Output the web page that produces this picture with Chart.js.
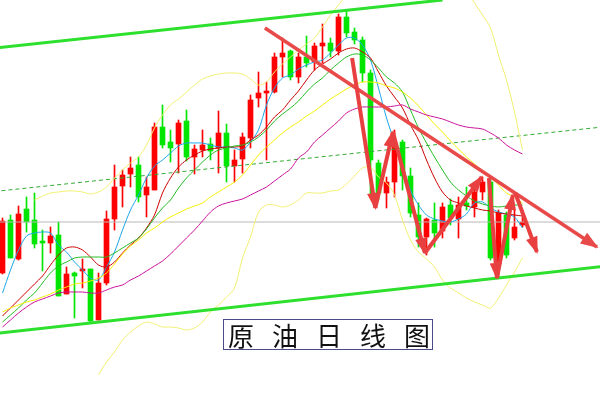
<!DOCTYPE html>
<html><head><meta charset="utf-8">
<script src="https://cdn.jsdelivr.net/npm/chart.js@4/dist/chart.umd.min.js"></script>
<style>
html,body{margin:0;padding:0;background:#fff;}
#wrap{position:relative;width:600px;height:400px;overflow:hidden;}
#title{position:absolute;left:223px;top:319px;width:210px;height:31px;box-sizing:border-box;border:1px solid #4a4a88;background:#fff;font-family:"Noto Sans CJK SC",sans-serif;font-size:26px;line-height:29px;letter-spacing:18px;padding-left:4px;color:#111;white-space:nowrap;}
</style></head><body>
<div id="wrap"><canvas id="c" width="600" height="400"></canvas><div id="title">原油日线图</div></div>
<script>
// Daily candles (price units)
const open  = [52.7,58.0,54.1,59.1,58.0,55.9,55.7,56.5,50.6,52.7,52.9,53.1,48.0,51.7,58.1,61.4,62.6,63.5,60.5,61.0,67.3,65.8,65.6,67.9,64.3,65.0,65.6,65.2,66.7,63.4,64.1,66.2,70.2,70.7,70.8,74.3,74.9,72.3,74.3,73.8,75.4,75.7,74.9,78.3,76.8,76.0,72.7,63.7,60.7,61.8,65.8,62.4,58.5,56.3,58.0,56.9,59.5,58.1,59.7,59.3,60.8,61.8,53.8,58.5,56.2,57.5];
const high  = [58.2,58.5,59.4,60.3,60.7,57.0,57.3,57.8,53.3,52.8,54.1,53.1,52.7,58.9,63.5,63.0,64.3,64.3,62.3,67.7,69.5,67.0,68.0,69.0,65.5,67.0,66.2,68.9,67.6,65.0,66.7,70.5,72.8,71.8,74.7,76.2,75.0,74.7,76.4,75.7,77.6,76.2,78.6,79.0,77.2,76.3,73.0,64.0,62.3,67.0,66.0,63.2,59.7,58.2,59.7,59.7,60.1,60.3,61.3,61.5,62.3,62.2,59.0,58.8,59.0,58.3];
const low   = [52.6,54.2,54.0,56.8,55.2,52.9,54.7,50.4,50.6,48.2,51.2,47.7,48.0,51.5,57.0,59.3,61.3,59.8,58.3,61.0,65.2,63.8,62.7,63.9,62.6,64.3,64.0,62.7,61.8,61.8,62.7,65.2,69.3,64.0,70.7,72.3,72.0,71.7,73.3,73.0,73.7,74.3,74.5,76.3,75.6,71.8,60.5,60.0,59.2,60.3,61.0,58.3,55.3,54.5,55.3,56.2,57.5,56.2,59.0,58.3,60.0,54.0,52.2,54.2,56.0,57.3];
const close = [57.9,54.2,58.6,57.8,55.6,55.7,56.4,50.4,52.6,52.4,53.1,47.9,51.7,58.1,61.3,62.5,63.2,60.3,61.3,67.3,65.5,65.2,67.7,64.3,65.1,65.5,64.9,66.7,63.4,64.0,66.3,70.0,70.7,70.9,74.3,74.7,72.3,74.3,73.7,75.4,75.7,74.9,78.3,76.7,76.0,72.7,64.0,60.7,61.8,65.7,62.4,58.7,56.3,58.1,56.7,59.3,58.2,59.5,59.4,60.8,61.8,54.2,58.7,54.5,57.3,57.8];

// Moving averages
const ma5   = [50.7,53.0,55.0,56.4,56.7,56.8,56.7,55.5,54.8,53.8,53.0,52.2,52.0,53.3,54.8,57.0,59.0,60.5,62.2,63.4,64.0,64.7,65.4,65.7,65.7,65.7,65.5,65.3,65.3,65.2,65.0,65.8,67.0,69.5,71.2,72.2,72.5,73.1,73.5,73.8,74.0,74.7,75.5,76.2,76.2,75.5,74.0,71.2,68.2,65.8,63.5,61.0,59.5,58.5,58.1,57.9,57.8,58.1,58.6,59.7,59.8,59.2,58.8,58.6,58.3,57.2];
const ma10  = [48.4,49.2,50.0,50.8,51.6,52.4,53.5,54.5,55.2,55.3,55.0,54.3,53.5,53.3,53.8,54.7,55.5,56.2,57.2,58.5,60.7,62.2,63.3,64.0,64.5,64.9,65.1,65.2,65.3,65.3,65.4,66.0,66.5,67.3,68.3,69.0,70.0,70.9,72.0,73.0,73.6,74.1,74.7,75.1,75.2,74.8,74.2,72.8,71.4,70.3,69.2,67.5,66.0,64.0,62.2,60.8,60.0,59.7,59.4,59.2,59.0,58.9,58.7,58.6,58.5,58.4];
const ma20  = [47.8,48.5,49.2,50.0,50.7,51.7,52.7,53.4,53.8,54.2,54.3,54.3,54.3,54.3,54.7,55.2,55.7,56.2,57.1,58.2,59.2,60.0,61.2,62.2,63.0,63.8,64.5,65.0,65.2,65.4,65.5,65.8,66.3,67.0,67.9,68.6,69.2,69.9,70.8,71.6,72.2,73.0,73.7,74.3,74.6,74.5,74.0,73.2,72.3,71.7,70.8,69.0,67.2,65.7,64.3,63.0,61.8,61.0,60.4,59.9,59.6,59.4,59.3,59.4,59.5,59.5];
const ma30  = [48.8,49.2,49.5,49.8,50.0,50.3,50.6,51.0,51.3,51.6,51.7,51.9,52.2,52.7,53.6,54.6,55.4,56.0,56.7,57.2,57.8,58.3,58.7,59.1,59.4,59.7,60.3,60.8,61.3,61.8,62.5,63.5,64.5,65.3,66.0,66.7,67.3,67.8,68.4,68.9,69.5,70.1,70.6,71.1,71.5,71.8,71.8,71.7,71.4,71.2,70.8,70.2,69.4,68.5,67.6,66.8,65.9,65.1,64.3,63.6,62.9,62.3,61.5,60.7,60.3,59.7];
const ma60  = [47.3,48.0,48.7,49.3,49.8,50.1,50.4,50.7,50.8,50.8,50.8,50.7,50.7,51.0,51.3,51.5,52.0,52.4,52.9,53.4,53.9,54.6,55.4,56.2,57.0,57.9,58.8,59.4,59.7,59.9,60.1,60.5,60.9,61.3,61.9,62.5,63.1,64.2,64.8,65.8,66.5,67.2,67.9,68.7,69.1,69.3,69.3,69.3,69.3,69.4,69.5,69.1,68.8,68.5,68.3,68.1,67.8,67.5,67.3,67.2,67.1,66.7,66.2,65.5,65.0,64.6];
// Bollinger bands
const bollUpper = [null,null,null,null,60.0,60.4,60.7,60.8,60.9,60.9,60.8,60.6,60.8,61.3,62.2,63.0,63.7,64.3,65.5,67.2,68.5,69.5,70.1,70.8,71.5,72.1,72.4,72.6,72.7,72.7,72.6,72.1,71.5,71.8,72.8,73.6,74.3,75.0,75.6,76.2,77.3,78.5,79.5,80.5,81.5,82.5,83.5,84.2,84.8,85.2,85.5,85.5,85.2,84.8,84.2,83.5,82.8,82.0,81.0,79.7,78.5,77.2,74.5,72.0,68.8,65.0];
const bollLower = [null,null,null,null,null,null,null,null,null,null,null,null,42.5,43.8,44.8,46.0,46.8,47.4,47.8,47.6,47.3,47.3,47.2,47.0,47.2,47.8,48.8,49.5,50.3,51.2,54.2,56.3,58.8,59.5,59.5,59.3,59.5,60.0,60.7,60.7,60.7,60.9,61.0,61.6,62.4,63.2,63.3,62.3,61.7,60.5,58.0,56.0,54.8,54.1,53.3,52.0,51.2,50.7,50.2,49.8,49.5,49.2,50.2,51.5,52.8,54.2];

// Drawn trend lines (candle index, price)
const channelTop    = [[-1,75.2],[55,80.0]];
const channelBottom = [[-1,46.65],[75,53.35]];
const channelMid    = [[-1,60.85],[75,67.3]];
const refLevel      = [[-1,57.8],[75,57.8]];
const downTrend     = [[32.8,77.2],[74.3,55.3]];
const swingArrows = [
  [[43.7,74.2],[46.6,59.2]],
  [[46.6,59.2],[48.8,66.8]],
  [[48.8,66.8],[52.8,54.7]],
  [[52.8,54.7],[59.9,62.3]],
  [[60.8,62.2],[61.8,52.2]],
  [[61.8,52.2],[63.8,60.5]],
  [[64.1,60.7],[66.8,54.8]]
];

const UP='#ff0000', DOWN='#00e600';
const idx = open.map((_,i)=>i);
const ser = arr => arr.map((v,i)=>({x:i,y:v})).filter(p=>p.y!==null);
const seg = pts => pts.map(p=>({x:p[0],y:p[1]}));
const lineDs = (data,color,width,extra) => Object.assign({type:'line',data,borderColor:color,borderWidth:width,pointRadius:0,tension:0.3,fill:false,order:5},extra||{});

const datasets = [
  {type:'bar',data:idx.map(i=>({x:i,y:[low[i],high[i]]})),backgroundColor:idx.map(i=>close[i]>=open[i]?UP:DOWN),barThickness:1,grouped:false,order:10},
  {type:'bar',data:idx.map(i=>({x:i,y:[open[i],close[i]]})),backgroundColor:idx.map(i=>close[i]>=open[i]?UP:DOWN),barThickness:5,grouped:false,order:9},
  lineDs(ser(bollUpper),'#f0f070',1),
  lineDs(ser(bollLower),'#f0f070',1),
  lineDs(ser(ma60),'#cc1199',1),
  lineDs(ser(ma30),'#f5f000',1),
  lineDs(ser(ma20),'#22bb22',1),
  lineDs(ser(ma10),'#cc0000',1),
  lineDs(ser(ma5),'#1aa6e6',1),
  lineDs(seg(refLevel),'#b8b8b8',1,{tension:0,order:6}),
  lineDs(seg(channelMid),'#33aa33',1,{tension:0,borderDash:[4,3],order:6}),
  lineDs(seg(channelTop),'#2ee02e',3,{tension:0,order:2}),
  lineDs(seg(channelBottom),'#2ee02e',3,{tension:0,order:2}),
  lineDs(seg(downTrend),'#e84a4a',3.5,{tension:0,order:1,arrowHead:{len:16,width:13}})
];
swingArrows.forEach(a=>datasets.push(lineDs(seg(a),'#e84040',4,{tension:0,order:0,arrowHead:{len:15,width:12}})));

const arrowPlugin = {
  id:'arrowHeads',
  afterDatasetsDraw(chart){
    const ctx=chart.ctx;
    chart.data.datasets.forEach((ds,i)=>{
      if(!ds.arrowHead) return;
      const pts=chart.getDatasetMeta(i).data;
      const a=pts[pts.length-2], b=pts[pts.length-1];
      const ang=Math.atan2(b.y-a.y,b.x-a.x);
      const L=ds.arrowHead.len, W=ds.arrowHead.width/2;
      const bx=b.x-L*Math.cos(ang), by=b.y-L*Math.sin(ang);
      ctx.save();
      ctx.fillStyle=ds.borderColor;
      ctx.beginPath();
      ctx.moveTo(b.x+2*Math.cos(ang),b.y+2*Math.sin(ang));
      ctx.lineTo(bx+W*Math.sin(ang),by-W*Math.cos(ang));
      ctx.lineTo(bx-W*Math.sin(ang),by+W*Math.cos(ang));
      ctx.closePath();
      ctx.fill();
      ctx.restore();
    });
  }
};

new Chart(document.getElementById('c'),{
  type:'bar',
  data:{datasets},
  options:{
    responsive:false,animation:false,events:[],
    layout:{padding:0},
    plugins:{legend:{display:false},tooltip:{enabled:false},title:{display:false}},
    scales:{
      x:{type:'linear',min:-0.3125,max:74.6875,display:false,offset:false},
      y:{type:'linear',min:40,max:80,display:false}
    }
  },
  plugins:[arrowPlugin]
});
</script>
</body></html>
